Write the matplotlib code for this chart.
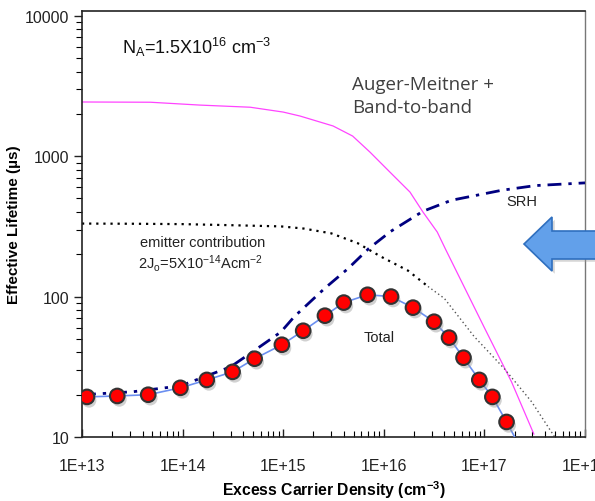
import numpy as np
import matplotlib
matplotlib.use("Agg")
import matplotlib.pyplot as plt
import matplotlib.patheffects as pe
from matplotlib.patches import Polygon
from matplotlib.ticker import LogLocator, NullFormatter, FixedLocator, FixedFormatter

plt.rcParams['font.family'] = ['Liberation Sans', 'DejaVu Sans']
plt.rcParams['mathtext.default'] = 'regular'

# values
auger_x = [1e13, 4.8e13, 1.48e14, 4.7e14, 1e15, 1.47e15, 3.13e15, 4.9e15, 7.3e15, 1.15e16,
           1.82e16, 2.45e16, 3.4e16, 4.1e16, 1e17, 1.86e17, 3.1e17]
auger_y = [2430, 2420, 2310, 2230, 2060, 1930, 1640, 1390, 1067, 770,
           555, 400, 288, 218, 60, 24.7, 10.5]

emitter_x = [1e13, 3.2e13, 1e14, 3.2e14, 9.5e14, 1.6e15, 3.0e15, 5.5e15, 9.3e15, 1.74e16, 2.75e16]
emitter_y = [331, 330, 328, 322, 316, 305, 282, 240, 193, 153, 118]
emitter_tail_x = [2.75e16, 4.0e16, 7.9e16, 1.58e17, 2.95e17, 5.0e17]
emitter_tail_y = [118, 97, 52, 30.6, 17.8, 10]

srh_x = [1e13, 3.2e13, 9.5e13, 3.0e14, 5.1e14, 9.5e14, 1.29e15, 2.57e15, 4.4e15, 7.1e15,
         1.17e16, 2.45e16, 4.7e16, 1.48e17, 3.2e17, 1e18]
srh_y = [20, 21, 23.1, 31.6, 41, 56, 72, 114, 158, 220, 291, 405, 485, 571, 617, 645]

total_x = [1.12e13, 2.24e13, 4.55e13, 9.5e13, 1.74e14, 3.14e14, 5.2e14, 9.7e14, 1.58e15, 2.6e15,
           4.0e15, 6.9e15, 1.18e16, 1.95e16, 3.16e16, 4.45e16, 6.2e16, 8.9e16, 1.2e17, 1.66e17]
total_y = [19.3, 19.6, 20.0, 22.4, 25.5, 29.1, 36.1, 45.4, 57.1, 73.1,
           90.6, 103, 100, 83.4, 66.2, 51, 36.7, 25.5, 19.3, 12.8]
total_line_x = [1e13] + total_x + [2.0e17]
total_line_y = [19.2] + total_y + [10]

x_ticks = [1e13, 1e14, 1e15, 1e16, 1e17, 1e18]
x_labels = ['1E+13', '1E+14', '1E+15', '1E+16', '1E+17', '1E+18']
y_ticks = [10, 100, 1000, 10000]
y_labels = ['10', '100', '1000', '10000']

fig = plt.figure(figsize=(5.95, 5.02), dpi=100)
ax = fig.add_axes([82/595, 1 - 438/502, 503/595, (438 - 12.3)/502])
ax.set_xscale('log')
ax.set_yscale('log')
ax.set_xlim(1e13, 1e18)
ax.set_ylim(10, 10750)

ax.plot(auger_x, auger_y, color='#ff44ff', lw=0.9, zorder=2)
ax.plot(emitter_x, emitter_y, color='black', lw=1.6, ls=(0, (1, 2.2)), zorder=2)
ax.plot(emitter_tail_x, emitter_tail_y, color='#555555', lw=1.0, ls=(0, (1, 2)), zorder=2)
ax.plot(srh_x, srh_y, color='#000080', lw=2.0, ls=(0, (5, 2.5, 1.2, 2.5)), zorder=3)
ax.plot(total_line_x, total_line_y, color='#6b8ff0', lw=1.2, zorder=3)
ax.plot(total_x, total_y, ls='none', marker='o', ms=10.5, mfc='#ff0000', mec='#333333', mew=1.5, zorder=4,
        path_effects=[pe.SimplePatchShadow(offset=(1.5, -2.5), shadow_rgbFace='#999999', alpha=0.45), pe.Normal()])

# ticks
ax.xaxis.set_major_locator(FixedLocator(x_ticks))
ax.xaxis.set_major_formatter(FixedFormatter(x_labels))
ax.xaxis.set_minor_locator(LogLocator(base=10, subs=np.arange(2, 10)))
ax.xaxis.set_minor_formatter(NullFormatter())
ax.yaxis.set_major_locator(FixedLocator(y_ticks))
ax.yaxis.set_major_formatter(FixedFormatter(y_labels))
ax.yaxis.set_minor_locator(LogLocator(base=10, subs=np.arange(2, 10)))
ax.yaxis.set_minor_formatter(NullFormatter())
ax.tick_params(axis='x', which='major', direction='in', length=6, width=1, pad=15, labelsize=11.5, colors='#222222')
ax.tick_params(axis='x', which='minor', direction='in', length=4, width=0.8)
ax.tick_params(axis='y', which='major', direction='out', length=6, width=1, pad=3, labelsize=11.5, colors='#222222')
ax.tick_params(axis='y', which='minor', direction='out', length=4, width=0.8)
ax.tick_params(top=False, right=False, which='both')

for s in ['left', 'bottom', 'top']:
    ax.spines[s].set_color('#222222')
    ax.spines[s].set_linewidth(1.2)
ax.spines['right'].set_color('#777777')
ax.spines['right'].set_linewidth(1.0)

ax.set_xlabel('Excess Carrier Density (cm$^{-3}$)', fontsize=11.3, fontweight='bold', labelpad=4)
ax.set_ylabel('Effective Lifetime (µs)', fontsize=11, fontweight='bold', labelpad=3)

ax.text(0.0795, 0.902, 'N$_A$=1.5X10$^{16}$ cm$^{-3}$', transform=ax.transAxes, fontsize=13, color='#111111')
ax.text(0.537, 0.802, 'Auger-Meitner +\nBand-to-band', transform=ax.transAxes, fontsize=13.5,
        color='#404040', family='Open Sans', va='center', linespacing=1.3)
ax.text(0.875, 0.554, 'SRH', transform=ax.transAxes, fontsize=10.5, color='#222222', ha='center', va='center')
ax.text(0.24, 0.458, 'emitter contribution', transform=ax.transAxes, fontsize=10.5, color='#222222', ha='center', va='center')
ax.text(0.235, 0.411, '2J$_o$=5X10$^{-14}$Acm$^{-2}$', transform=ax.transAxes, fontsize=10.5, color='#222222', ha='center', va='center')
ax.text(0.59, 0.235, 'Total', transform=ax.transAxes, fontsize=10.5, color='#222222', ha='center', va='center')

# blue arrow at right edge
arrow_px = [(524, 245), (552, 218), (552, 232), (600, 232), (600, 260), (552, 260), (552, 272)]
arrow = Polygon([(px / 595, 1 - py / 502) for px, py in arrow_px], closed=True, transform=fig.transFigure,
                facecolor='#62a0ea', edgecolor='#2f6fbf', lw=1.2, zorder=10,
                path_effects=[pe.SimplePatchShadow(offset=(2, -2), shadow_rgbFace='#999999', alpha=0.4), pe.Normal()])
fig.patches.append(arrow)

fig.savefig('out.png', dpi=100)
